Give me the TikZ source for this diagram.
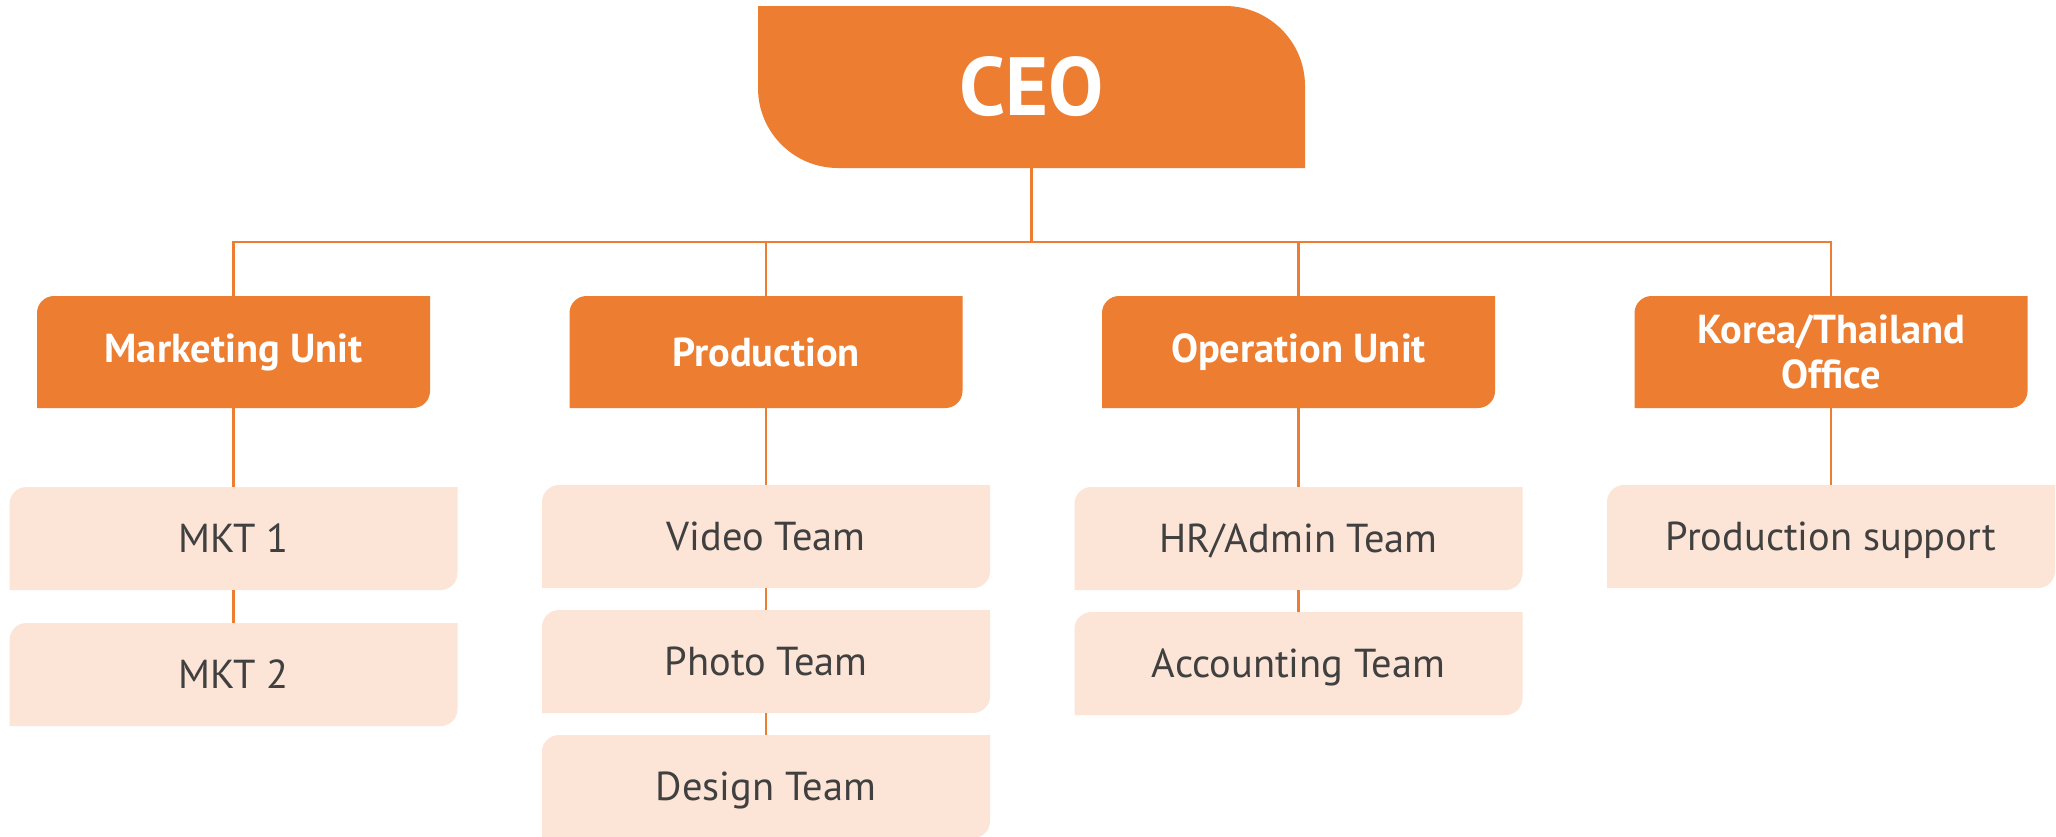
\documentclass[tikz,border=0pt]{standalone}
\usepackage{fontspec}
\setmainfont{PT Sans}
\usepackage{tikz}
\usetikzlibrary{positioning,backgrounds}
\definecolor{orng}{HTML}{ED7D31}
\definecolor{peach}{HTML}{FCE4D6}
\definecolor{ink}{HTML}{404040}
\tikzset{link/.style = {draw=orng, line width=0.6pt}}

\begin{document}
\begin{tikzpicture}[node distance=1.395cm, every node/.style={outer sep=0pt},
    unit/.style={text=white, font=\bfseries\fontsize{11.5}{12.8}\selectfont, minimum width=3.93cm, minimum height=1.12cm, inner sep=0pt, align=center},
    team/.style={text=ink, font=\fontsize{11.5}{13}\selectfont, minimum width=4.48cm, minimum height=1.03cm, inner sep=0pt, text depth=0pt}]
    \useasboundingbox (0,0) rectangle (20.56,-8.36);

    \node[text=white, font=\bfseries\fontsize{23.5}{26}\selectfont, minimum width=5.47cm, minimum height=1.62cm, inner sep=0pt] (ceo) at (10.315,-0.87) {CEO};

    \node[unit] (mkt) at (2.335,-3.52) {Marketing Unit};
    \node[unit] (prd) [right=of mkt] {Production};
    \node[unit] (opr) [right=of prd] {Operation Unit};
    \node[unit] (kor) [right=of opr] {Korea/Thailand\\Office};

    \node[team] (mkt1) [below=0.79cm of mkt] {MKT 1};
    \node[team] (mkt2) [below=0.33cm of mkt1] {MKT 2};
    \node[team] (vid) [below=0.77cm of prd] {Video Team};
    \node[team] (pho) [below=0.22cm of vid] {Photo Team};
    \node[team] (des) [below=0.22cm of pho] {Design Team};
    \node[team] (hr) [below=0.79cm of opr] {HR/Admin Team};
    \node[team] (acc) [below=0.22cm of hr] {Accounting Team};
    \node[team] (sup) [below=0.77cm of kor] {Production support};

    % box shapes: two rounded corners each
    \begin{scope}[on background layer]
        \fill[white] (0,0) rectangle (20.56,-8.36);
        \fill[orng] (ceo.north west) -- ([xshift=-0.8cm]ceo.north east) arc[start angle=90, end angle=0, radius=0.8cm]
            -- (ceo.south east) -- ([xshift=0.8cm]ceo.south west) arc[start angle=270, end angle=180, radius=0.8cm] -- cycle;
        \foreach \n/\c in {mkt/orng,prd/orng,opr/orng,kor/orng,mkt1/peach,mkt2/peach,vid/peach,pho/peach,des/peach,hr/peach,acc/peach,sup/peach}
            \fill[\c] (\n.south west) -- ([yshift=-0.17cm]\n.north west) arc[start angle=180, end angle=90, radius=0.17cm]
                -- (\n.north east) -- ([yshift=0.17cm]\n.south east) arc[start angle=0, end angle=-90, radius=0.17cm] -- cycle;
    \end{scope}

    \coordinate (bus) at (0,-2.42);
    \draw[link] (ceo.south) -- (ceo.south |- bus);
    \draw[link] (mkt.north) |- (kor.north |- bus) -- (kor.north);
    \draw[link] (prd.north) -- (prd.north |- bus);
    \draw[link] (opr.north) -- (opr.north |- bus);
    \foreach \a/\b in {mkt/mkt1, mkt1/mkt2, prd/vid, vid/pho, pho/des, opr/hr, hr/acc, kor/sup}
        \draw[link] (\a) -- (\b);
\end{tikzpicture}
\end{document}
